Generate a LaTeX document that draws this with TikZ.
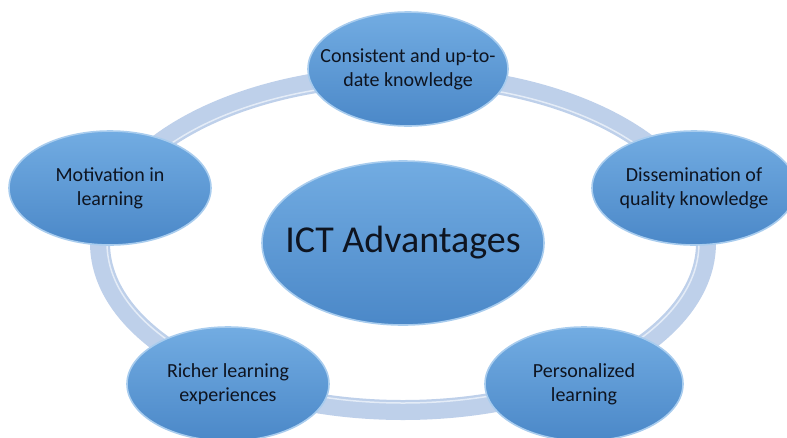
\documentclass[tikz,border=0pt]{standalone}
\usepackage{fontspec}
\setmainfont{Carlito}
\usetikzlibrary{shapes.geometric}
\definecolor{bubbletop}{HTML}{72ACE2}
\definecolor{bubblebot}{HTML}{4B88C8}
\definecolor{bubbleedge}{HTML}{A8CCEE}
\definecolor{ringcol}{HTML}{BED0EA}
\definecolor{ringlite}{HTML}{E4ECF7}
\definecolor{inkcol}{HTML}{0E1420}

\begin{document}
\begin{tikzpicture}[
  x=1pt, y=-1pt,
  bubble/.style={
    ellipse, inner xsep=-20pt, inner ysep=0pt,
    top color=bubbletop, bottom color=bubblebot,
    draw=bubbleedge, line width=1.6pt,
    text=inkcol, align=center,
    font=\fontsize{20}{24}\selectfont,
    minimum width=200pt, minimum height=114pt,
  },
  hub/.style={bubble, inner xsep=-19pt, minimum width=282pt, minimum height=164pt,
    font=\fontsize{38}{44}\selectfont},
  ring/.style={draw=ringcol, line width=20pt},
  ringshine/.style={draw=ringlite, line width=1.5pt},
]
\useasboundingbox (0,0) rectangle (787,437);

\node[hub] (hub) at (403,243) {ICT Advantages};

% ring round the hub, behind the outer bubbles
\draw[ring] (hub.center) ellipse [x radius=303pt, y radius=167pt];
\draw[ringshine] (hub.center) ellipse [x radius=296pt, y radius=160pt];

\node[bubble] (uptodate) at (408,69) {Consistent and up-to-\\date knowledge};
\node[bubble, minimum width=204pt] (dissem) at (694,188) {Dissemination of\\quality knowledge};
\node[bubble, minimum width=198pt] (personal) at (584,384) {Personalized\\learning};
\node[bubble, minimum width=202pt] (richer) at (228,384) {Richer learning\\experiences};
\node[bubble, minimum width=202pt] (motiv) at (110,188) {Motivation in\\learning};
\end{tikzpicture}
\end{document}
